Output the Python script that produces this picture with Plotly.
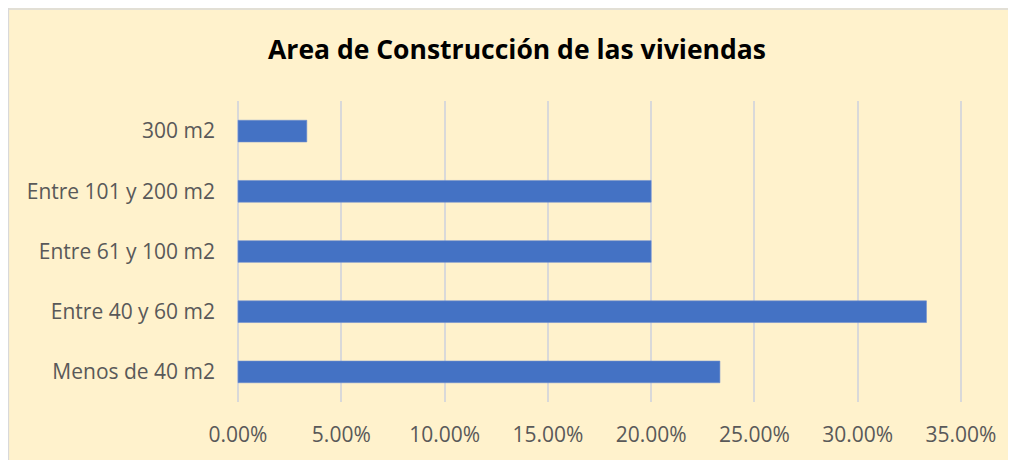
import plotly.graph_objects as go

categories = ["Menos de 40 m2", "Entre 40 y 60 m2", "Entre 61 y 100 m2", "Entre 101 y 200 m2", "300 m2"]
values = [0.2333, 0.3333, 0.20, 0.20, 0.0333]
tick_vals = [0, 0.05, 0.10, 0.15, 0.20, 0.25, 0.30, 0.35]
tick_text = ["0.00%", "5.00%", "10.00%", "15.00%", "20.00%", "25.00%", "30.00%", "35.00%"]
title = "Area de Construcción de las viviendas"

# page body has an 8px margin; figure drawn from (8, 8)
W, H = 1008, 452
L, R, T, B = 229, 54, 93, 58
pw, ph = W - L - R, H - T - B

def px_x(p):
    return (p - L) / pw

def px_y(p):
    return (H - B - p) / ph

fig = go.Figure(go.Bar(
    y=categories, x=values, orientation="h",
    marker=dict(color="#4472C4", line=dict(color="#6E8FD0", width=0.6)),
))

fig.update_layout(
    width=W, height=H,
    margin=dict(l=L, r=R, t=T, b=B),
    paper_bgcolor="#FFF2CC",
    plot_bgcolor="rgba(0,0,0,0)",
    bargap=0.64,
    showlegend=False,
    font=dict(family="Open Sans", color="#595959", size=21),
    title=dict(text="<b>" + title + "</b>", x=509 / W, xanchor="center",
               y=1 - 42 / H, yanchor="middle",
               font=dict(family="Open Sans", size=26.5, color="black")),
    xaxis=dict(range=[-0.0005, 0.3505], tickvals=tick_vals, ticktext=tick_text,
               showgrid=True, gridcolor="#D9D9D9", gridwidth=2,
               zeroline=False, showline=False, ticks="", ticklabelstandoff=18,
               fixedrange=True),
    yaxis=dict(showgrid=False, zeroline=False, showline=False, ticks="",
               ticklabelstandoff=21, fixedrange=True),
    shapes=[
        dict(type="line", xref="paper", yref="paper",
             x0=px_x(0.5), x1=px_x(0.5), y0=px_y(0), y1=px_y(H),
             line=dict(color="#D9D9D9", width=1.3)),
        dict(type="line", xref="paper", yref="paper",
             x0=px_x(0), x1=px_x(W), y0=px_y(1), y1=px_y(1),
             line=dict(color="#D9D9D9", width=1.3)),
    ],
)

fig.write_html("out.html")
